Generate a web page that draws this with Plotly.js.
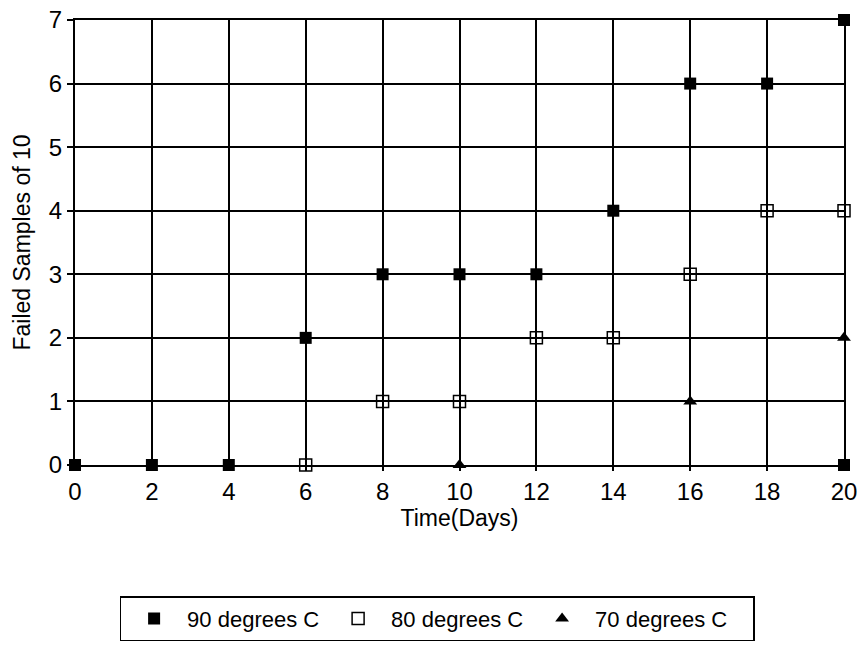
<!DOCTYPE html>
<html>
<head>
<meta charset="utf-8">
<script src="https://cdn.plot.ly/plotly-3.0.1.min.js"></script>
<style>html,body{margin:0;padding:0;background:#fff;}#chart{width:857px;height:654px;}</style>
</head>
<body>
<div id="chart"></div>
<script>
const days90 = [0, 2, 4, 6, 8, 10, 12, 14, 16, 18, 20, 20];
const failed90 = [0, 0, 0, 2, 3, 3, 3, 4, 6, 6, 7, 0];
const days80 = [6, 8, 10, 12, 14, 16, 18, 20];
const failed80 = [0, 1, 1, 2, 2, 3, 4, 4];
const days70 = [10, 16, 20];
const failed70 = [0, 1, 2];
const xTicks = [0, 2, 4, 6, 8, 10, 12, 14, 16, 18, 20];
const yTicks = [0, 1, 2, 3, 4, 5, 6, 7];

const font = 'Liberation Sans, Arial, sans-serif';
const traces = [
  {x: days90, y: failed90, mode: 'markers', name: '90 degrees C', cliponaxis: false,
   marker: {symbol: 'square', size: 12, color: '#000'}},
  {x: days80, y: failed80, mode: 'markers', name: '80 degrees C', cliponaxis: false,
   marker: {symbol: 'square-open', size: 12, color: '#000', line: {width: 1.5}}},
  {x: days70, y: failed70, mode: 'markers', name: '70 degrees C', cliponaxis: false,
   legendwidth: 153,
   marker: {symbol: 'triangle-up', size: 12, color: '#000'}}
];
const layout = {
  width: 857, height: 654,
  margin: {l: 75, r: 13, t: 20, b: 189},
  paper_bgcolor: '#fff', plot_bgcolor: '#fff',
  font: {family: font, color: '#000', size: 22},
  showlegend: true,
  legend: {
    orientation: 'h', x: 0.058, xanchor: 'left', y: -0.295, yanchor: 'top',
    bordercolor: '#000', borderwidth: 1.5, entrywidth: 133, itemwidth: 56,
    font: {family: font, size: 22, color: '#000'}
  },
  xaxis: {
    range: [0, 20], tickvals: xTicks, ticktext: xTicks.map(String),
    showgrid: true, gridcolor: '#000', gridwidth: 2,
    showline: true, linecolor: '#000', linewidth: 2, mirror: true,
    ticks: 'outside', ticklen: 4, tickcolor: '#000', tickwidth: 2,
    ticklabeloverflow: 'allow',
    zeroline: false, tickfont: {size: 24, family: font},
    title: {text: 'Time(Days)', font: {size: 23, family: font}, standoff: 6}
  },
  yaxis: {
    range: [0, 7], tickvals: yTicks, ticktext: yTicks.map(String),
    showgrid: true, gridcolor: '#000', gridwidth: 2,
    showline: true, linecolor: '#000', linewidth: 2, mirror: true,
    ticks: 'outside', ticklen: 6, tickcolor: '#000', tickwidth: 2,
    ticklabeloverflow: 'allow',
    zeroline: false, tickfont: {size: 24, family: font},
    title: {text: 'Failed Samples of 10', font: {size: 23, family: font}, standoff: 12}
  }
};
Plotly.newPlot('chart', traces, layout, {displayModeBar: false, staticPlot: true});
</script>
</body>
</html>
